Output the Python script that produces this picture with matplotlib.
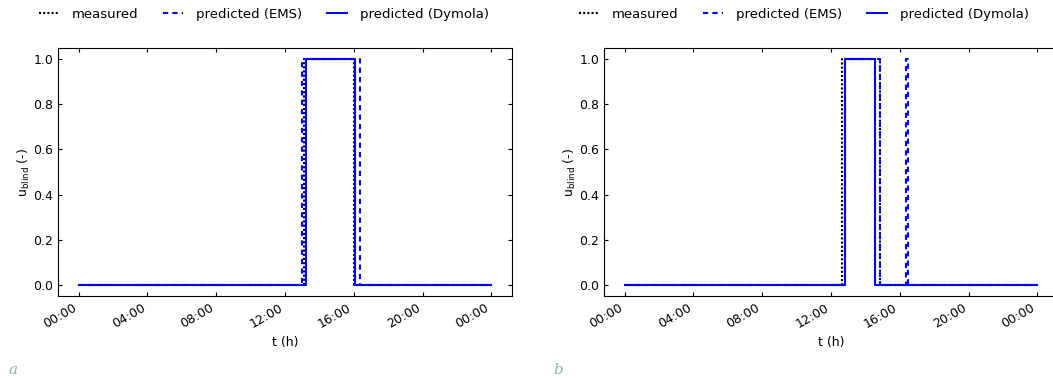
import matplotlib
matplotlib.use("Agg")
import matplotlib.pyplot as plt
import matplotlib.dates as mdates
import numpy as np

DAY = "2020-06-01"

# switching times (HH:MM) and the value held from that time on
a_measured_t = ["00:00", "13:05", "16:00", "24:00"]
a_measured_v = [0, 1, 0, 0]
a_ems_t = ["00:00", "13:00", "16:20", "24:00"]
a_ems_v = [0, 1, 0, 0]
a_dymola_t = ["00:00", "13:15", "16:05", "24:00"]
a_dymola_v = [0, 1, 0, 0]

b_measured_t = ["00:00", "12:40", "14:50", "24:00"]
b_measured_v = [0, 1, 0, 0]
b_ems_t = ["00:00", "12:50", "14:50", "16:20", "16:30", "24:00"]
b_ems_v = [0, 1, 0, 1, 0, 0]
b_dymola_t = ["00:00", "12:50", "14:35", "24:00"]
b_dymola_v = [0, 1, 0, 0]

y_ticks = [0.0, 0.2, 0.4, 0.6, 0.8, 1.0]


def to_dt(times):
    out = []
    for t in times:
        h, m = t.split(":")
        out.append(np.datetime64(DAY + "T00:00") + np.timedelta64(int(h) * 60 + int(m), "m"))
    return np.array(out)


def draw(ax, series, legend_x):
    (mt, mv), (et, ev), (dt, dv) = series
    ax.plot(to_dt(mt), mv, drawstyle="steps-post", color="black", ls=(0, (1, 1)), lw=1.5,
            label="measured")
    ax.plot(to_dt(et), ev, drawstyle="steps-post", color="blue", ls=(0, (2.5, 2)), lw=1.5,
            label="predicted (EMS)")
    ax.plot(to_dt(dt), dv, drawstyle="steps-post", color="blue", ls="-", lw=1.5,
            label="predicted (Dymola)")
    ax.xaxis.set_major_locator(mdates.HourLocator(byhour=[0, 4, 8, 12, 16, 20]))
    ax.xaxis.set_major_formatter(mdates.DateFormatter("%H:%M"))
    ax.set_yticks(y_ticks)
    ax.tick_params(direction="in", top=True, right=True, length=3, labelsize=9)
    for lab in ax.get_xticklabels():
        lab.set_rotation(30)
        lab.set_ha("right")
    ax.set_xlabel("t (h)", fontsize=9)
    ax.set_ylabel(r"u$_{\mathrm{blind}}$ (-)", fontsize=9, labelpad=1)
    ax.legend(loc="center", bbox_to_anchor=(legend_x, 0.963), bbox_transform=fig.transFigure,
              ncol=3, frameon=False, fontsize=9.5, handlelength=1.5, handletextpad=1.0,
              columnspacing=1.9)


fig = plt.figure(figsize=(10.53, 3.8), dpi=100)
ax_a = fig.add_axes([58 / 1053, 84 / 380, 454 / 1053, 248 / 380])
ax_b = fig.add_axes([604 / 1053, 84 / 380, 454 / 1053, 248 / 380])

draw(ax_a, [(a_measured_t, a_measured_v), (a_ems_t, a_ems_v), (a_dymola_t, a_dymola_v)], 264 / 1053)
draw(ax_b, [(b_measured_t, b_measured_v), (b_ems_t, b_ems_v), (b_dymola_t, b_dymola_v)], 804 / 1053)

fig.text(8 / 1053, 1 - 370 / 380, "a", color="#8fb0c0", style="italic", family="DejaVu Serif",
         fontsize=11, va="center")
fig.text(553 / 1053, 1 - 370 / 380, "b", color="#8fb0c0", style="italic", family="DejaVu Serif",
         fontsize=11, va="center")

fig.savefig("out.png", dpi=100)
